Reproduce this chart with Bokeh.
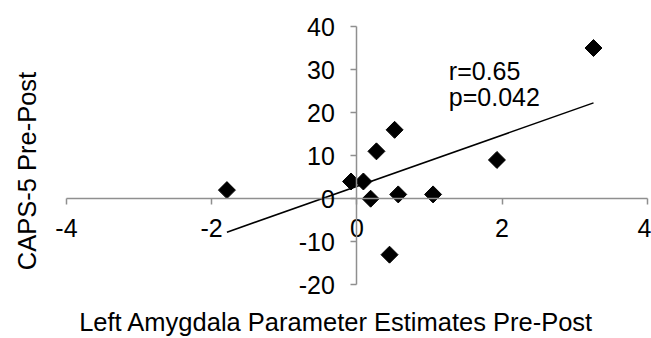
import numpy as np
from bokeh.plotting import figure
from bokeh.models import LinearAxis, FixedTicker, Range1d, Label
from bokeh.embed import file_html
from bokeh.resources import INLINE

# Data
amygdala = [-1.79, -0.08, 0.09, 0.19, 0.27, 0.45, 0.52, 0.57, 1.05, 1.93, 3.26]
caps5 = [2, 4, 4, 0, 11, -13, 16, 1, 1, 9, 35]
x_ticks = [-4, -2, 0, 2, 4]
y_ticks = [-20, -10, 0, 10, 20, 30, 40]
x_title = "Left Amygdala Parameter Estimates Pre-Post"
y_title = "CAPS-5 Pre-Post"
stats_lines = ["r=0.65", "p=0.042"]

FONT = "Liberation Sans"
AXIS_GREY = "#8f8f8f"

p = figure(width=651, height=338, output_backend="svg", toolbar_location=None,
           x_range=Range1d(-4.909, 4.059), y_range=Range1d(-32.47, 46.04),
           x_axis_location=None, y_axis_location=None,
           min_border_left=0, min_border_top=0, min_border_right=0, min_border_bottom=0)
p.grid.visible = False
p.outline_line_color = None
p.background_fill_color = "white"
p.border_fill_color = "white"

# Axes crossing at the origin
xaxis = LinearAxis(fixed_location=0, bounds=(x_ticks[0], x_ticks[-1]),
                   ticker=FixedTicker(ticks=x_ticks),
                   major_label_overrides={t: str(t) for t in x_ticks},
                   axis_line_color=AXIS_GREY, axis_line_width=1.5,
                   major_tick_line_color=AXIS_GREY, major_tick_line_width=1.5,
                   major_tick_out=6, major_tick_in=0, minor_tick_line_color=None,
                   major_label_standoff=14, major_label_text_font=FONT,
                   major_label_text_font_size="25px", major_label_text_color="black")
yaxis = LinearAxis(fixed_location=0, bounds=(y_ticks[0], y_ticks[-1]),
                   ticker=FixedTicker(ticks=y_ticks),
                   major_label_overrides={t: str(t) for t in y_ticks},
                   axis_line_color=AXIS_GREY, axis_line_width=1.5,
                   major_tick_line_color=AXIS_GREY, major_tick_line_width=1.5,
                   major_tick_out=6, major_tick_in=0, minor_tick_line_color=None,
                   major_label_standoff=16, major_label_text_font=FONT,
                   major_label_text_font_size="25px", major_label_text_color="black")
p.add_layout(xaxis, "below")
p.add_layout(yaxis, "left")

# Axis titles
p.add_layout(Label(x=-0.282, y=-28.7, text=x_title, text_font=FONT,
                   text_font_size="25.5px", text_color="black",
                   text_align="center", text_baseline="alphabetic"))
p.add_layout(Label(x=-4.544, y=6.43, text=y_title, angle=np.pi / 2, text_font=FONT,
                   text_font_size="25.5px", text_color="black",
                   text_align="center", text_baseline="alphabetic"))

# Linear trend line fitted to the data
xs = np.array(amygdala)
ys = np.array(caps5)
slope, intercept = np.polyfit(xs, ys, 1)
fx = np.array([xs.min(), xs.max()])
p.line(fx, slope * fx + intercept, line_color="black", line_width=1.5)

# Diamond markers
p.scatter(amygdala, caps5, marker="square", angle=np.pi / 4, size=12,
          fill_color="black", line_color="black")

# Statistics annotation
for t, yb in zip(stats_lines, [29.55, 23.62]):
    p.add_layout(Label(x=1.267, y=yb, text=t, text_font=FONT,
                       text_font_size="25px", text_color="black",
                       text_baseline="alphabetic", text_align="left"))

open("out.html", "w").write(file_html(p, INLINE))
